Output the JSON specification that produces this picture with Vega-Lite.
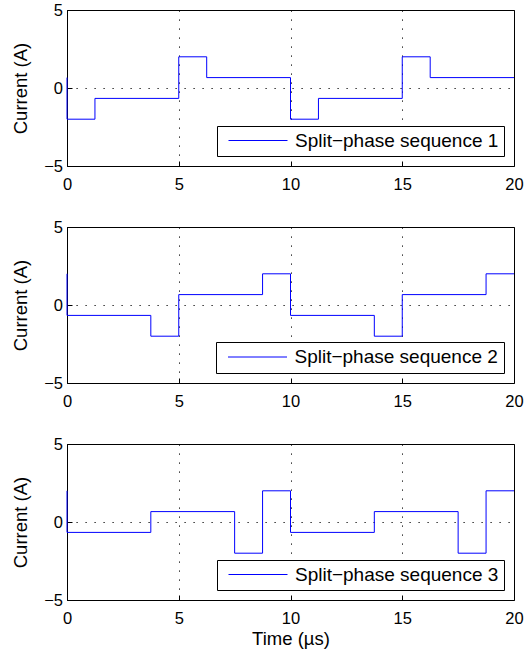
{
  "$schema": "https://vega.github.io/schema/vega-lite/v6.json",
  "padding": {"left": 11, "top": 1, "right": 0, "bottom": 5},
  "background": "white",
  "datasets": {
    "current": [
      {"series": "1", "k": 0, "t": 0, "i": 0.667},
      {"series": "1", "k": 1, "t": 0, "i": -2},
      {"series": "1", "k": 2, "t": 1.25, "i": -0.667},
      {"series": "1", "k": 3, "t": 5, "i": 2},
      {"series": "1", "k": 4, "t": 6.25, "i": 0.667},
      {"series": "1", "k": 5, "t": 10, "i": -2},
      {"series": "1", "k": 6, "t": 11.25, "i": -0.667},
      {"series": "1", "k": 7, "t": 15, "i": 2},
      {"series": "1", "k": 8, "t": 16.25, "i": 0.667},
      {"series": "1", "k": 9, "t": 20, "i": 0.667},
      {"series": "2", "k": 0, "t": 0, "i": 2},
      {"series": "2", "k": 1, "t": 0, "i": -0.667},
      {"series": "2", "k": 2, "t": 3.75, "i": -2},
      {"series": "2", "k": 3, "t": 5, "i": 0.667},
      {"series": "2", "k": 4, "t": 8.75, "i": 2},
      {"series": "2", "k": 5, "t": 10, "i": -0.667},
      {"series": "2", "k": 6, "t": 13.75, "i": -2},
      {"series": "2", "k": 7, "t": 15, "i": 0.667},
      {"series": "2", "k": 8, "t": 18.75, "i": 2},
      {"series": "2", "k": 9, "t": 20, "i": 2},
      {"series": "3", "k": 0, "t": 0, "i": 2},
      {"series": "3", "k": 1, "t": 0, "i": -0.667},
      {"series": "3", "k": 2, "t": 3.75, "i": 0.667},
      {"series": "3", "k": 3, "t": 7.5, "i": -2},
      {"series": "3", "k": 4, "t": 8.75, "i": 2},
      {"series": "3", "k": 5, "t": 10, "i": -0.667},
      {"series": "3", "k": 6, "t": 13.75, "i": 0.667},
      {"series": "3", "k": 7, "t": 17.5, "i": -2},
      {"series": "3", "k": 8, "t": 18.75, "i": 2},
      {"series": "3", "k": 9, "t": 20, "i": 2}
    ]
  },
  "config": {
    "font": "Liberation Sans",
    "view": {"stroke": "black", "strokeWidth": 1},
    "axis": {
      "domain": false,
      "grid": true,
      "gridColor": "black",
      "gridDash": [1.2, 7.8],
      "gridWidth": 1,
      "gridOpacity": 1,
      "ticks": true,
      "tickColor": "black",
      "tickSize": -5,
      "labelFlush": false,
      "labelOverlap": false,
      "labelFont": "Liberation Sans",
      "labelFontSize": 16.5,
      "labelColor": "black",
      "titleFont": "Liberation Sans",
      "titleFontSize": 18.5,
      "titleFontWeight": "normal",
      "titleColor": "black"
    },
    "axisX": {"labelPadding": 15},
    "axisY": {"labelPadding": 9.5, "titlePadding": 13},
    "legend": {
      "orient": "bottom-right",
      "offset": 10,
      "strokeColor": "black",
      "fillColor": "white",
      "padding": 5,
      "title": null,
      "labelFont": "Liberation Sans",
      "labelFontSize": 19,
      "labelColor": "black",
      "labelLimit": 0,
      "symbolType": "M-0.6,0H11.2",
      "symbolSize": 100,
      "symbolStrokeWidth": 1,
      "symbolStrokeColor": "#0000ff",
      "symbolFillColor": "transparent",
      "labelOffset": 54
    }
  },
  "bounds": "flush",
  "spacing": 61,
  "vconcat": [
    {
      "width": 447,
      "height": 156,
      "data": {"name": "current"},
      "transform": [{"filter": "datum.series == '1'"}],
      "mark": {"type": "line", "interpolate": "step-after", "strokeWidth": 1},
      "encoding": {
        "x": {"field": "t", "type": "quantitative", "scale": {"domain": [0, 20], "nice": false, "zero": false}, "axis": {"values": [0, 5, 10, 15, 20], "title": null}},
        "y": {"field": "i", "type": "quantitative", "scale": {"domain": [-5, 5], "nice": false}, "axis": {"values": [-5, 0, 5], "title": "Current (A)"}},
        "order": {"field": "k"},
        "color": {"field": "series", "type": "nominal", "scale": {"range": ["#0000ff"]}, "legend": {"labelExpr": "'Split−phase sequence ' + datum.label"}}
      }
    },
    {
      "width": 447,
      "height": 156,
      "data": {"name": "current"},
      "transform": [{"filter": "datum.series == '2'"}],
      "mark": {"type": "line", "interpolate": "step-after", "strokeWidth": 1},
      "encoding": {
        "x": {"field": "t", "type": "quantitative", "scale": {"domain": [0, 20], "nice": false, "zero": false}, "axis": {"values": [0, 5, 10, 15, 20], "title": null}},
        "y": {"field": "i", "type": "quantitative", "scale": {"domain": [-5, 5], "nice": false}, "axis": {"values": [-5, 0, 5], "title": "Current (A)"}},
        "order": {"field": "k"},
        "color": {"field": "series", "type": "nominal", "scale": {"range": ["#0000ff"]}, "legend": {"labelExpr": "'Split−phase sequence ' + datum.label", "padding": 5.5}}
      }
    },
    {
      "width": 447,
      "height": 156,
      "data": {"name": "current"},
      "transform": [{"filter": "datum.series == '3'"}],
      "mark": {"type": "line", "interpolate": "step-after", "strokeWidth": 1},
      "encoding": {
        "x": {"field": "t", "type": "quantitative", "scale": {"domain": [0, 20], "nice": false, "zero": false}, "axis": {"values": [0, 5, 10, 15, 20], "title": "Time (µs)", "titlePadding": 3}},
        "y": {"field": "i", "type": "quantitative", "scale": {"domain": [-5, 5], "nice": false}, "axis": {"values": [-5, 0, 5], "title": "Current (A)"}},
        "order": {"field": "k"},
        "color": {"field": "series", "type": "nominal", "scale": {"range": ["#0000ff"]}, "legend": {"labelExpr": "'Split−phase sequence ' + datum.label"}}
      }
    }
  ],
  "resolve": {"scale": {"color": "independent"}, "legend": {"color": "independent"}}
}
